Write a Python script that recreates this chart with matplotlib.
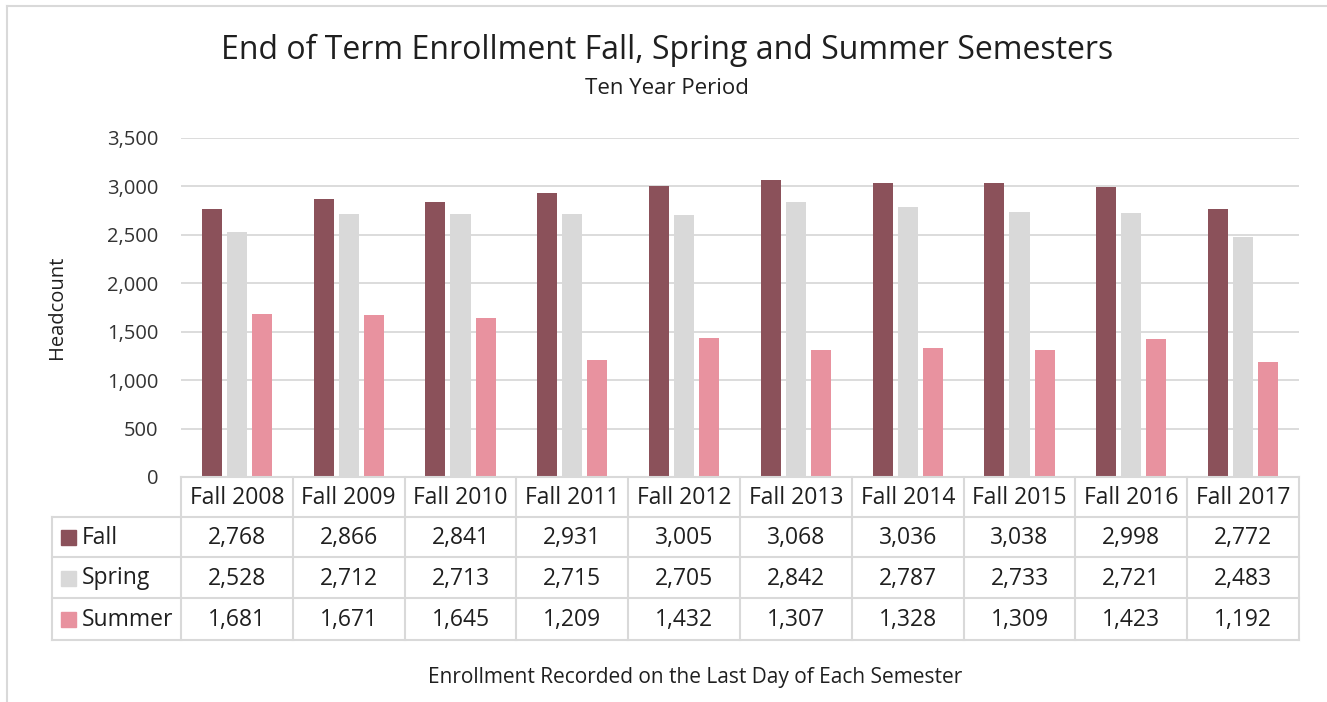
import matplotlib.pyplot as plt
from matplotlib.lines import Line2D
from matplotlib.patches import Rectangle
import numpy as np

plt.rcParams['font.family'] = ['Open Sans', 'DejaVu Sans']

# data
terms = ['Fall 2008', 'Fall 2009', 'Fall 2010', 'Fall 2011', 'Fall 2012',
         'Fall 2013', 'Fall 2014', 'Fall 2015', 'Fall 2016', 'Fall 2017']
fall = [2768, 2866, 2841, 2931, 3005, 3068, 3036, 3038, 2998, 2772]
spring = [2528, 2712, 2713, 2715, 2705, 2842, 2787, 2733, 2721, 2483]
summer = [1681, 1671, 1645, 1209, 1432, 1307, 1328, 1309, 1423, 1192]
series_names = ['Fall', 'Spring', 'Summer']
series_colors = ['#8B515A', '#D9D9D9', '#E8929F']

W, H = 1327, 702
fig = plt.figure(figsize=(W / 100, H / 100), dpi=100)

def fx(px):
    return px / W

def fy(py):
    return 1 - py / H

# plot area in pixels
left, right, top, bottom = 181, 1299, 138, 477
ax = fig.add_axes([fx(left), fy(bottom), fx(right) - fx(left), fy(top) - fy(bottom)])

x = np.arange(len(terms))
bw = 0.179
step = 0.224
for i, (vals, c) in enumerate(zip([fall, spring, summer], series_colors)):
    ax.bar(x + (i - 1) * step, vals, width=bw, color=c, zorder=3)

ax.set_xlim(-0.5, len(terms) - 0.5)
ax.set_ylim(0, 3500)
ax.set_yticks(np.arange(0, 3501, 500))
ax.set_yticklabels([f'{v:,}' for v in range(0, 3501, 500)])
ax.tick_params(axis='y', length=0, pad=16.5, labelsize=14.5, labelcolor='#333333')
ax.set_xticks([])
ax.grid(axis='y', color='#D9D9D9', linewidth=1.3, zorder=0)
for s in ax.spines.values():
    s.set_visible(False)

# outer chart border (cropped at right/bottom)
fig.add_artist(Line2D([fx(7), fx(7)], [fy(6), 0], color='#D9D9D9', lw=1.5))
fig.add_artist(Line2D([fx(7), 1], [fy(6), fy(6)], color='#D9D9D9', lw=1.5))

# data table
tc = '#D9D9D9'
col_w = (right - left) / len(terms)
row_y = [477, 517, 557, 598, 640]
tab_left = 52
lw = 1.5

fig.add_artist(Line2D([fx(left), fx(right)], [fy(row_y[0]), fy(row_y[0])], color=tc, lw=lw))
for yy in row_y[1:]:
    fig.add_artist(Line2D([fx(tab_left), fx(right)], [fy(yy), fy(yy)], color=tc, lw=lw))
for j in range(len(terms) + 1):
    xx = left + j * col_w
    fig.add_artist(Line2D([fx(xx), fx(xx)], [fy(row_y[0]), fy(row_y[-1])], color=tc, lw=lw))
fig.add_artist(Line2D([fx(tab_left), fx(tab_left)], [fy(row_y[1]), fy(row_y[-1])], color=tc, lw=lw))

txt_color = '#1F1F1F'
fs_tab = 16.5
for j, t in enumerate(terms):
    cx = left + (j + 0.5) * col_w
    fig.text(fx(cx), fy((row_y[0] + row_y[1]) / 2 + 1), t, ha='center', va='center',
             fontsize=fs_tab, color=txt_color)

for r, (name, vals, c) in enumerate(zip(series_names, [fall, spring, summer], series_colors)):
    cy = (row_y[r + 1] + row_y[r + 2]) / 2 + 1
    fig.add_artist(Rectangle((fx(61), fy(cy + 7)), fx(15), 15 / H, color=c))
    fig.text(fx(82), fy(cy), name, ha='left', va='center', fontsize=fs_tab, color=txt_color)
    for j, v in enumerate(vals):
        cx = left + (j + 0.5) * col_w
        fig.text(fx(cx), fy(cy), f'{v:,}', ha='center', va='center',
                 fontsize=fs_tab, color=txt_color)

# titles and labels
fig.text(fx(667), fy(50), 'End of Term Enrollment Fall, Spring and Summer Semesters',
         ha='center', va='center', fontsize=23, color='#1F1F1F')
fig.text(fx(667), fy(88), 'Ten Year Period', ha='center', va='center',
         fontsize=16, color='#1F1F1F')
fig.text(fx(57), fy(307), 'Headcount', ha='center', va='center', rotation=90,
         fontsize=14.5, color='#1F1F1F')
fig.text(fx(695), fy(678), 'Enrollment Recorded on the Last Day of Each Semester',
         ha='center', va='center', fontsize=15, color='#1F1F1F')

fig.savefig('out.png', dpi=100)
